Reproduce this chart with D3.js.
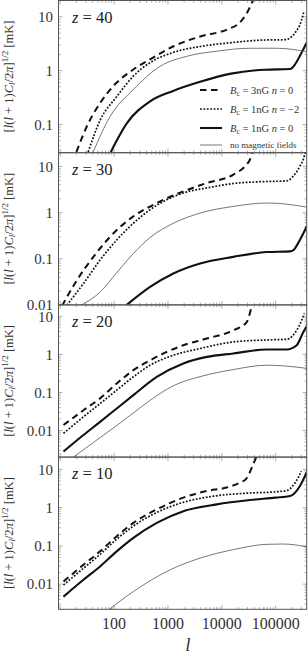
<!DOCTYPE html>
<html>
<head>
<meta charset="utf-8">
<script src="https://cdn.jsdelivr.net/npm/d3@7"></script>
<style>
  body { margin: 0; background: #fff; }
  svg { display: block; }
  svg text { font-family: "Liberation Serif", "DejaVu Serif", serif; }
</style>
</head>
<body>
<svg id="chart" width="308" height="654"></svg>
<script>
// multipole range and tick labels
const lDomain = [9.3, 376000];
const xTicks = [100, 1000, 10000, 100000];

// panel redshifts, y ranges and y tick labels
const redshifts = [40, 30, 20, 10];
const yDomains = [[0.03, 20], [0.01, 20], [0.002, 20], [0.0022, 21]];
const yTicks = [[10, 1, 0.1], [10, 1, 0.1, 0.01], [10, 1, 0.1, 0.01], [10, 1, 0.1, 0.01]];

// series legend
const seriesNames = ["dashed", "dotted", "solid", "thin"];

// z = 40  ([l, value in mK])
const z40Dashed = [[20, 0.031], [31, 0.091], [55, 0.25], [112, 0.6], [225, 1.04], [530, 1.75], [1245, 2.8], [3950, 4.3], [12500, 5.8], [21800, 7.9], [29500, 12], [38000, 21], [42000, 30]];
const z40Dotted = [[33, 0.031], [55, 0.12], [112, 0.33], [225, 0.78], [466, 1.41], [1245, 2.17], [3950, 2.8], [14800, 3.3], [63400, 3.7], [149000, 3.75], [228000, 5.0], [300000, 8.5], [330000, 12]];
const z40Solid = [[87, 0.031], [172, 0.105], [466, 0.27], [1245, 0.42], [3950, 0.62], [14800, 0.88], [63000, 1.04], [185000, 1.07], [228000, 1.3], [290000, 2.0], [376000, 3.3]];
const z40Thin = [[41, 0.031], [84, 0.14], [225, 0.44], [714, 1.2], [2260, 1.85], [8170, 2.3], [33400, 2.6], [106000, 2.6], [376000, 2.25]];

// z = 30
const z30Dashed = [[10.8, 0.0095], [20.3, 0.034], [41.3, 0.11], [84.3, 0.30], [228, 0.83], [620, 1.62], [1930, 2.9], [5250, 4.4], [16400, 6.7], [29000, 11.2], [33400, 14.3], [37000, 22], [40000, 30]];
const z30Dotted = [[13.3, 0.0099], [27, 0.029], [55, 0.094], [112, 0.256], [228, 0.59], [466, 1.16], [950, 1.91], [1930, 2.68], [5250, 3.44], [16400, 4.3], [51200, 4.7], [160000, 4.9], [212000, 6.2], [282000, 10.2], [325000, 14.3], [360000, 22]];
const z30Solid = [[172, 0.01], [466, 0.0245], [1260, 0.048], [3950, 0.079], [16400, 0.11], [68000, 0.14], [185000, 0.145], [220000, 0.16], [250000, 0.2], [376000, 0.5]];
const z30Thin = [[25, 0.01], [55, 0.019], [112, 0.05], [228, 0.13], [466, 0.29], [1260, 0.59], [3950, 0.98], [16400, 1.37], [68000, 1.62], [138000, 1.56], [376000, 1.32]];

// z = 20
const z20Dashed = [[11.5, 0.0139], [27, 0.034], [55, 0.07], [112, 0.172], [228, 0.385], [466, 0.70], [950, 1.16], [1930, 1.74], [5250, 2.61], [16400, 4.3], [29000, 7.1], [36500, 20], [40000, 30]];
const z20Dotted = [[11.5, 0.0084], [27, 0.0229], [55, 0.051], [112, 0.115], [228, 0.257], [466, 0.52], [1260, 0.95], [3950, 1.43], [16400, 2.13], [68000, 2.4], [160000, 2.5], [245000, 4.3], [304000, 7.9], [340000, 12]];
const z20Solid = [[11.5, 0.0028], [27, 0.0076], [55, 0.0169], [112, 0.038], [228, 0.085], [620, 0.256], [1930, 0.58], [5250, 0.86], [16400, 1.06], [68000, 1.35], [160000, 1.35], [245000, 1.74], [326000, 3.9], [376000, 5.5]];
const z20Thin = [[17.6, 0.002], [55, 0.0065], [112, 0.0135], [228, 0.029], [466, 0.062], [1260, 0.15], [3950, 0.26], [16400, 0.40], [68000, 0.52], [138000, 0.5], [376000, 0.43]];

// z = 10
const z10Dashed = [[11.5, 0.0117], [27, 0.032], [55, 0.072], [112, 0.179], [228, 0.40], [620, 0.90], [1930, 1.83], [5250, 2.73], [12300, 3.36], [21800, 4.55], [28000, 5.6], [44500, 22], [50000, 30]];
const z10Dotted = [[11.5, 0.0095], [27, 0.026], [55, 0.06], [112, 0.15], [228, 0.33], [620, 0.75], [1930, 1.38], [7000, 2.0], [30000, 2.4], [100000, 2.6], [160000, 2.8], [210000, 3.8], [260000, 6], [300000, 9]];
const z10Solid = [[11.5, 0.0047], [27, 0.013], [55, 0.029], [112, 0.072], [228, 0.162], [620, 0.40], [1930, 0.81], [8050, 1.22], [33400, 1.58], [99300, 1.83], [185000, 2.02], [282000, 3.7], [376000, 8.5]];
const z10Thin = [[75, 0.002], [228, 0.0064], [950, 0.0215], [3950, 0.048], [16400, 0.08], [68000, 0.11], [138000, 0.112], [376000, 0.095]];

const panelSeries = [
  [z40Dashed, z40Dotted, z40Solid, z40Thin],
  [z30Dashed, z30Dotted, z30Solid, z30Thin],
  [z20Dashed, z20Dotted, z20Solid, z20Thin],
  [z10Dashed, z10Dotted, z10Solid, z10Thin]
];

const svg = d3.select("#chart");
const left = 58.5, right = 306.7, top0 = 0.5, panelH = 152.2;

const x = d3.scaleLog().domain(lDomain).range([left, right]);

// line styles for each series
const styles = {
  dashed: { width: 2.0, dash: "6.5,4.5", color: "#111" },
  dotted: { width: 1.7, dash: "1.8,1.6", color: "#111" },
  solid: { width: 2.1, dash: null, color: "#111" },
  thin: { width: 0.9, dash: null, color: "#666" }
};

function minorTicks(domain) {
  const out = [];
  const lo = Math.floor(Math.log10(domain[0])), hi = Math.ceil(Math.log10(domain[1]));
  for (let e = lo; e <= hi; e++) {
    for (let k = 1; k < 10; k++) {
      const v = k * Math.pow(10, e);
      if (v >= domain[0] && v <= domain[1]) out.push({ v, major: k === 1 });
    }
  }
  return out;
}

redshifts.forEach((z, i) => {
  const y0 = top0 + i * panelH, y1 = y0 + panelH;
  const y = d3.scaleLog().domain(yDomains[i]).range([y1, y0]);
  const g = svg.append("g");

  // clip path for the curves
  const clipId = "clip" + i;
  svg.append("clipPath").attr("id", clipId)
    .append("rect").attr("x", left).attr("y", y0).attr("width", right - left).attr("height", panelH);

  // ticks on all four sides
  const tickG = g.append("g").attr("stroke", "#888").attr("stroke-width", 0.7);
  minorTicks(yDomains[i]).forEach(t => {
    const len = t.major ? 4 : 2.2;
    const yy = y(t.v);
    tickG.append("line").attr("x1", left).attr("x2", left + len).attr("y1", yy).attr("y2", yy);
    tickG.append("line").attr("x1", right).attr("x2", right - len).attr("y1", yy).attr("y2", yy);
  });
  minorTicks(lDomain).forEach(t => {
    const len = t.major ? 4 : 2.2;
    const xx = x(t.v);
    tickG.append("line").attr("x1", xx).attr("x2", xx).attr("y1", y1).attr("y2", y1 - len);
    tickG.append("line").attr("x1", xx).attr("x2", xx).attr("y1", y0).attr("y2", y0 + len);
  });

  // curves
  const line = d3.line().x(d => x(d[0])).y(d => y(d[1])).curve(d3.curveMonotoneX);
  const curves = g.append("g").attr("clip-path", `url(#${clipId})`);
  panelSeries[i].forEach((data, k) => {
    const s = styles[seriesNames[k]];
    curves.append("path").datum(data)
      .attr("d", line)
      .attr("fill", "none")
      .attr("stroke", s.color)
      .attr("stroke-width", s.width)
      .attr("stroke-dasharray", s.dash);
  });

  // frame
  g.append("rect").attr("x", left).attr("y", y0).attr("width", right - left).attr("height", panelH)
    .attr("fill", "none").attr("stroke", "#555").attr("stroke-width", 1);

  // y tick labels
  yTicks[i].forEach(v => {
    g.append("text").attr("x", 53).attr("y", y(v)).attr("dy", "0.35em")
      .attr("text-anchor", "end").style("font-size", "15px")
      .attr("fill", "#333").text(v);
  });

  // redshift label
  const zl = g.append("text").attr("x", 72).attr("y", y0 + 22)
    .style("font-size", "16.5px").attr("fill", "#222");
  zl.append("tspan").style("font-style", "italic").text("z");
  zl.append("tspan").text(" = " + z);

  // y axis title
  const t = g.append("text")
    .attr("transform", `translate(13,${y0 + 76}) rotate(-90)`)
    .attr("text-anchor", "middle").style("font-size", "12.5px").attr("fill", "#333");
  t.append("tspan").text("[");
  t.append("tspan").style("font-style", "italic").text("l");
  t.append("tspan").text("(");
  t.append("tspan").style("font-style", "italic").text("l");
  t.append("tspan").text(" + 1)");
  t.append("tspan").style("font-style", "italic").text("C");
  t.append("tspan").style("font-style", "italic").style("font-size", "9px").attr("dy", 2).text("l");
  t.append("tspan").attr("dy", -2).text("/2");
  t.append("tspan").style("font-style", "italic").text("π");
  t.append("tspan").text("]");
  t.append("tspan").style("font-size", "9px").attr("dy", -5).text("1/2");
  t.append("tspan").attr("dy", 5).text(" [mK]");
});

// x tick labels and title on the bottom panel
const bottom = top0 + 4 * panelH;
xTicks.forEach(v => {
  svg.append("text").attr("x", x(v)).attr("y", bottom + 20)
    .attr("text-anchor", "middle").style("font-size", "16px")
    .attr("fill", "#333").text(v);
});
svg.append("text").attr("x", 188).attr("y", 651).attr("text-anchor", "middle")
  .style("font-style", "italic").style("font-size", "19px")
  .attr("fill", "#333").text("l");

// legend in the top panel
const legendRows = [
  { key: "dashed", field: "3nG", n: "0" },
  { key: "dotted", field: "1nG", n: "−2" },
  { key: "solid", field: "1nG", n: "0" },
  { key: "thin" }
];
const legend = svg.append("g");
legendRows.forEach((r, k) => {
  const yy = 90 + k * 19 - (k === 3 ? 2 : 0);
  const s = styles[r.key];
  legend.append("line").attr("x1", 200).attr("x2", 222).attr("y1", yy).attr("y2", yy)
    .attr("stroke", s.color).attr("stroke-width", s.width).attr("stroke-dasharray", s.dash);
  const tx = legend.append("text").attr("x", 230).attr("y", yy).attr("dy", "0.35em")
    .attr("fill", "#333");
  if (r.field) {
    tx.style("font-size", "10.5px");
    tx.append("tspan").style("font-style", "italic").text("B");
    tx.append("tspan").style("font-size", "7.5px").attr("dy", 2).text("c");
    tx.append("tspan").attr("dy", -2).text(" = " + r.field + "  ");
    tx.append("tspan").style("font-style", "italic").text("n");
    tx.append("tspan").text(" = " + r.n);
  } else {
    tx.style("font-size", "9px").text("no magnetic fields");
  }
});
</script>
</body>
</html>
